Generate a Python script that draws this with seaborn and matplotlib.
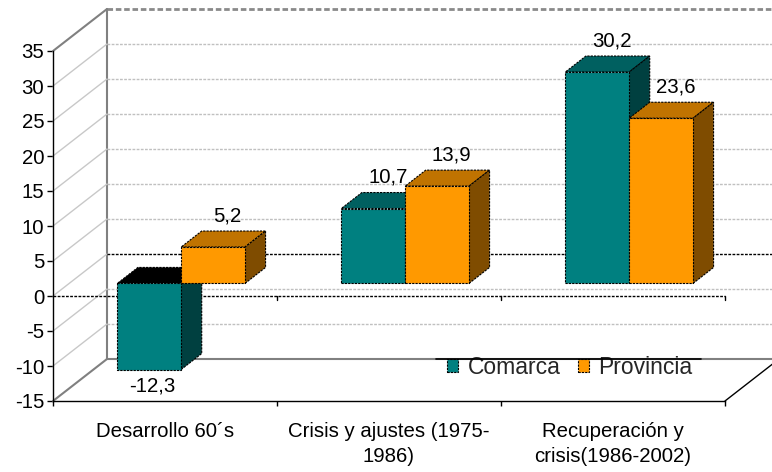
import numpy as np
import pandas as pd
import matplotlib
matplotlib.use("Agg")
import matplotlib.pyplot as plt
from matplotlib.patches import Polygon, Patch
from matplotlib.lines import Line2D
import seaborn as sns

# ---------------- data ----------------
categories = ["Desarrollo 60´s", "Crisis y ajustes (1975-\n1986)", "Recuperación y\ncrisis(1986-2002)"]
series = ["Comarca", "Provincia"]
comarca = [-12.3, 10.7, 30.2]
provincia = [5.2, 13.9, 23.6]
y_ticks = [-15, -10, -5, 0, 5, 10, 15, 20, 25, 30, 35]

front_colors = {"Comarca": "#008080", "Provincia": "#FF9900"}
top_colors = {"Comarca": "#006060", "Provincia": "#C07300"}
side_colors = {"Comarca": "#004040", "Provincia": "#7F4C00"}
neg_top_color = "#000000"

df = pd.DataFrame({
    "periodo": categories * 2,
    "serie": [series[0]] * 3 + [series[1]] * 3,
    "valor": comarca + provincia,
})

# ---------------- style ----------------
sns.set_theme(style="white")
plt.rcParams['font.family'] = ['Liberation Sans', 'DejaVu Sans']
FS = 14.7
LEG_FS = 16.5
DASH = (0, (2, 1))

W, H, DPI = 772, 472, 100
fig = plt.figure(figsize=(W / DPI, H / DPI), dpi=DPI)

# 3D pseudo-projection geometry (pixels)
PX_CAT = 224.0
PX_UNIT = 7.0
DEPTH_DX_PX = 54.0
DEPTH_DY_PX = 42.0
F_BAR = 0.30     # depth of bar front faces
BAR_D = 0.38     # bar depth
DX = DEPTH_DX_PX / PX_CAT
DY = DEPTH_DY_PX / PX_UNIT
VMIN, VMAX = -15, 35

front_left_px = 53.0
front_bottom_px = 401.0
top_px = front_bottom_px - (VMAX - VMIN) * PX_UNIT - DEPTH_DY_PX

x0 = -0.5 - F_BAR * DX
x1 = x0 + (W - front_left_px) / PX_CAT
y0 = VMIN - F_BAR * DY
y1 = VMAX + (1 - F_BAR) * DY

ax = fig.add_axes([front_left_px / W, (H - front_bottom_px) / H,
                   (W - front_left_px) / W, (front_bottom_px - top_px) / H])


def P(x, v, f):
    return (x + (f - F_BAR) * DX, v + (f - F_BAR) * DY)


def seg(p, q, **kw):
    ax.add_line(Line2D([p[0], q[0]], [p[1], q[1]], clip_on=False, **kw))


# ---------------- bars (front faces) ----------------
sns.barplot(data=df, x="periodo", y="valor", hue="serie", order=categories,
            hue_order=series, palette=front_colors, saturation=1, width=0.57, dodge=True,
            edgecolor="black", linewidth=0.8, errorbar=None, legend=False, ax=ax)

ax.set_xlim(x0, x1)
ax.set_ylim(y0, y1)
ax.set_xlabel("")
ax.set_ylabel("")

# ---------------- walls / floor ----------------
grid_vals = [v for v in y_ticks if VMIN < v < VMAX]
# back wall
seg(P(-0.5, VMIN, 1), P(-0.5, VMAX, 1), color="#808080", lw=1.5, zorder=1)
seg(P(-0.5, VMAX, 1), P(2.5, VMAX, 1), color="#8a8a8a", lw=2, ls=DASH, zorder=1)
for v in grid_vals:
    if v == 0:
        seg(P(-0.5, v, 1), P(2.5, v, 1), color="black", lw=1.0, ls=DASH, zorder=1.2)
    else:
        seg(P(-0.5, v, 1), P(2.5, v, 1), color="#C0C0C0", lw=1.0, ls=DASH, zorder=1)
# side wall
for v in grid_vals:
    seg(P(-0.5, v, 0), P(-0.5, v, 1), color="#C8C8C8", lw=1.0, zorder=1)
seg(P(-0.5, VMAX, 0), P(-0.5, VMAX, 1), color="#808080", lw=1.5, zorder=1)
# floor
seg(P(-0.5, VMIN, 1), P(2.5, VMIN, 1), color="#808080", lw=1.5, zorder=1)
seg(P(-0.5, VMIN, 0), P(-0.5, VMIN, 1), color="#808080", lw=1.5, zorder=1)
seg(P(2.5, VMIN, 0), P(2.5, VMIN, 1), color="black", lw=1.0, zorder=1)
# front zero line with category ticks
seg(P(-0.5, 0, 0), P(2.5, 0, 0), color="black", lw=1.0, ls=DASH, zorder=1.5)
for b in (0.5, 1.5, 2.5):
    p = P(b, 0, 0)
    seg(p, (p[0], p[1] - 4 / PX_UNIT), color="black", lw=1.0, zorder=1.5)

# ---------------- 3D bar faces + labels ----------------
ddx, ddy = BAR_D * DX, BAR_D * DY
for si, s in enumerate(series):
    cont = ax.containers[si]
    vals = comarca if si == 0 else provincia
    for ci, rect in enumerate(cont):
        v = vals[ci]
        bx, bw = rect.get_x(), rect.get_width()
        by, bh = rect.get_y(), rect.get_height()
        bot, top = min(by, by + bh), max(by, by + bh)
        base = 3 + (ci * 2 + si) * 0.1
        rect.set_zorder(base + 0.05)
        rect.set_linestyle(DASH)
        tcol = top_colors[s] if v >= 0 else neg_top_color
        ax.add_patch(Polygon([(bx, top), (bx + bw, top), (bx + bw + ddx, top + ddy), (bx + ddx, top + ddy)],
                             closed=True, fc=tcol, ec="black", lw=0.8, ls=DASH, zorder=base, clip_on=False))
        ax.add_patch(Polygon([(bx + bw, bot), (bx + bw + ddx, bot + ddy), (bx + bw + ddx, top + ddy), (bx + bw, top)],
                             closed=True, fc=side_colors[s], ec="black", lw=0.8, ls=DASH, zorder=base, clip_on=False))
        lbl = f"{v:.1f}".replace(".", ",")
        if v >= 0:
            ax.annotate(lbl, xy=(bx + bw / 2 + 0.5 * ddx, v + ddy), xytext=(3, 11),
                        textcoords="offset points", ha="center", va="center",
                        fontsize=FS, color="black", zorder=10)
        else:
            ax.annotate(lbl, xy=(bx + bw / 2, v), xytext=(2, -12.2),
                        textcoords="offset points", ha="center", va="center",
                        fontsize=FS, color="black", zorder=10)

# ---------------- axes (front plane) ----------------
for sp in ("top", "right"):
    ax.spines[sp].set_visible(False)
for sp in ("left", "bottom"):
    ax.spines[sp].set_visible(True)
    ax.spines[sp].set_color("black")
    ax.spines[sp].set_linewidth(1.0)
    ax.spines[sp].set_linestyle(DASH)
ax.spines["left"].set_bounds(VMIN - F_BAR * DY, VMAX - F_BAR * DY)
ax.spines["bottom"].set_bounds(-0.5 - F_BAR * DX, 2.5 - F_BAR * DX)

ax.set_yticks([v - F_BAR * DY for v in y_ticks], labels=[str(v) for v in y_ticks])
ax.set_xticks([i - F_BAR * DX for i in range(len(categories))], labels=categories)
ax.set_xticks([b - F_BAR * DX for b in (-0.5, 0.5, 1.5, 2.5)], minor=True)
ax.tick_params(axis="y", which="major", left=True, direction="out", length=4.3, width=1,
               color="black", pad=2, labelsize=FS, labelcolor="black")
ax.tick_params(axis="x", which="major", bottom=True, length=0, pad=15,
               labelsize=FS, labelcolor="black")
ax.tick_params(axis="x", which="minor", bottom=True, direction="out", length=3.5,
               width=1, color="black")
for t in ax.get_xticklabels():
    t.set_linespacing(1.4)
ax.patch.set_visible(False)

# ---------------- legend ----------------
handles = [Patch(facecolor=front_colors[s], edgecolor="black", linewidth=0.8, linestyle=DASH) for s in series]
leg = ax.legend(handles, series, loc="upper left", bbox_to_anchor=(447 / W, (H - 356) / H),
                bbox_transform=fig.transFigure, ncol=2, frameon=False, handlelength=0.5,
                handleheight=0.5, handletextpad=0.4, columnspacing=0.75, borderpad=0,
                borderaxespad=0, fontsize=LEG_FS)
leg.set_zorder(20)
fig.canvas.draw()
bb = leg.get_window_extent()
fig.add_artist(Line2D([(bb.x0 - 11) / W, (bb.x1 + 9) / W], [(H - 359) / H, (H - 359) / H],
                      transform=fig.transFigure, color="black", lw=1.2))

fig.savefig("out.png", dpi=DPI)
